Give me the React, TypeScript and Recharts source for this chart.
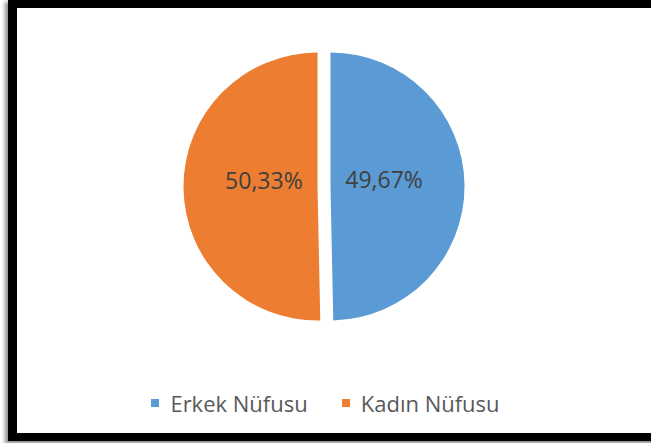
import React from "react";
import { PieChart, Pie, Cell, Legend } from "recharts";

const categories = ["Erkek Nüfusu", "Kadın Nüfusu"];
const shares = [49.67, 50.33];
const colors = ["#5B9BD5", "#ED7D31"];

const data = categories.map((name, i) => ({ name, value: shares[i] }));
const RADIAN = Math.PI / 180;
const FONT = "'Open Sans', 'Liberation Sans', sans-serif";

// each pie draws one slice, pushed out along its own mid angle
const explode = 6.5;
const centerX = 324;
const centerY = 186.5;
const radius = 134;

function makeLabel(show: number) {
  return (props: any) => {
    const { cx, cy, midAngle, outerRadius, percent, index } = props;
    if (index !== show) return null;
    const r = outerRadius * 0.4;
    const x = cx + r * Math.cos(-midAngle * RADIAN);
    const y = cy + r * Math.sin(-midAngle * RADIAN);
    return (
      <text
        x={x}
        y={y}
        dy={-7}
        textAnchor="middle"
        dominantBaseline="central"
        fill="#404040"
        fontSize={23}
        fontFamily={FONT}
      >
        {(percent * 100).toFixed(2).replace(".", ",") + "%"}
      </text>
    );
  };
}

function LegendBox() {
  return (
    <div style={{ display: "flex", justifyContent: "center", gap: 34, fontFamily: FONT, fontSize: 22, color: "#595959" }}>
      {categories.map((c, i) => (
        <div key={c} style={{ display: "flex", alignItems: "center" }}>
          <span style={{ width: 8, height: 8, background: colors[i], display: "inline-block", marginRight: 11 }} />
          <span>{c}</span>
        </div>
      ))}
    </div>
  );
}

export default function App() {
  return (
    <div style={{ position: "absolute", top: 0, left: 0, width: 651, height: 443, overflow: "hidden", background: "#fff" }}>
      <div
        style={{
          position: "absolute",
          left: 8,
          top: -1,
          width: 720,
          height: 425,
          border: "8px solid #000",
          borderLeftWidth: 9,
          borderTopWidth: 9,
          boxShadow: "-3px 3px 4px rgba(0,0,0,0.45)",
        }}
      />
      <PieChart
        width={651}
        height={443}
        margin={{ top: 0, right: 0, bottom: 0, left: 0 }}
        style={{ position: "absolute", top: 0, left: 0 }}
      >
        {[0, 1].map((k) => {
          const mid = k === 0 ? 90 - shares[0] * 1.8 : 90 - shares[0] * 3.6 - shares[1] * 1.8;
          const dx = explode * Math.cos(mid * RADIAN);
          const dy = -explode * Math.sin(mid * RADIAN);
          return (
            <Pie
              key={k}
              data={data}
              dataKey="value"
              nameKey="name"
              cx={centerX + dx}
              cy={centerY + dy}
              outerRadius={radius}
              startAngle={90}
              endAngle={-270}
              stroke="none"
              labelLine={false}
              label={makeLabel(k)}
              isAnimationActive={false}
              legendType="none"
            >
              {data.map((d, i) => (
                <Cell key={d.name} fill={i === k ? colors[i] : "none"} />
              ))}
            </Pie>
          );
        })}
        <Legend
          content={<LegendBox />}
          wrapperStyle={{ position: "absolute", top: 388, left: 0, width: 651 }}
        />
      </PieChart>
    </div>
  );
}
